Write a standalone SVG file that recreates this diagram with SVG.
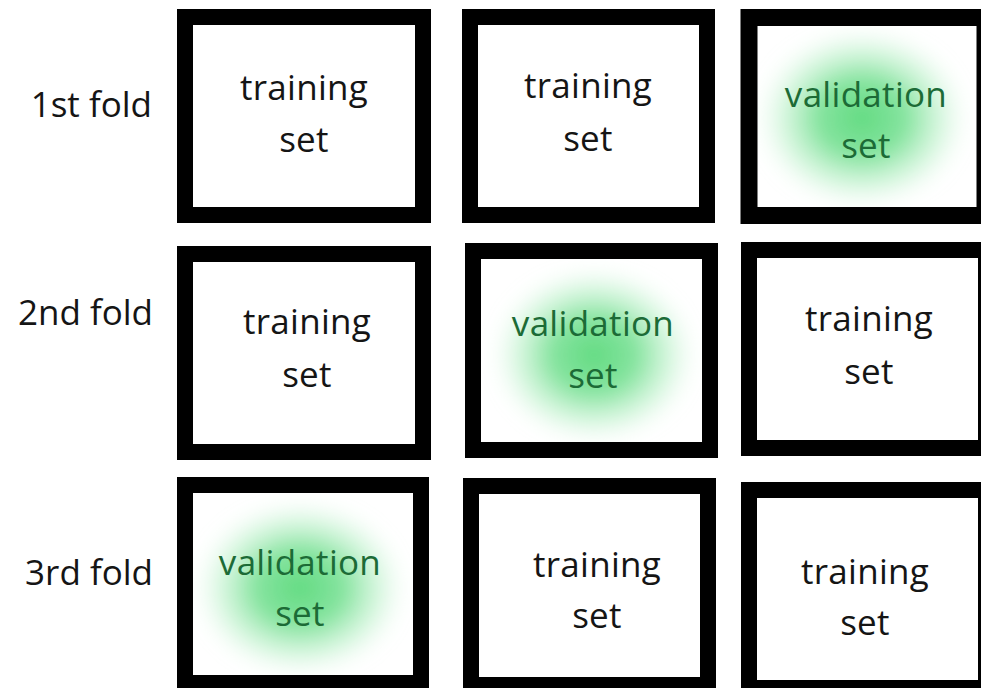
<svg xmlns="http://www.w3.org/2000/svg" width="981" height="688" viewBox="0 0 981 688">
  <style>
    .box { fill: #ffffff; stroke: #000000; stroke-width: 16; }
    .t { font-family: "Open Sans", "Noto Sans", "Liberation Sans", sans-serif; font-size: 35px; text-anchor: middle; fill: #151515; letter-spacing: 0.3px; }
    .v { fill: #1c6b36; }
    .lbl { font-family: "Open Sans", "Noto Sans", "Liberation Sans", sans-serif; font-size: 35px; text-anchor: end; fill: #151515; }
  </style>
  <defs>
    <radialGradient id="glow" cx="0.5" cy="0.5" r="0.5">
      <stop offset="0" stop-color="#5ad97b" stop-opacity="0.95"/>
      <stop offset="0.4" stop-color="#66dc86" stop-opacity="0.8"/>
      <stop offset="0.7" stop-color="#98e9ad" stop-opacity="0.45"/>
      <stop offset="1" stop-color="#d2f6dc" stop-opacity="0"/>
    </radialGradient>
    <filter id="soft" x="-25%" y="-25%" width="150%" height="150%">
      <feGaussianBlur stdDeviation="8"/>
    </filter>
    <clipPath id="c13"><rect x="758" y="26" width="219" height="181"/></clipPath>
    <clipPath id="c22"><rect x="481" y="259" width="221" height="183"/></clipPath>
    <clipPath id="c31"><rect x="193" y="493" width="220" height="182"/></clipPath>
  </defs>
  <rect width="981" height="688" fill="#ffffff"/>

  <g id="labels">
    <text class="lbl" x="152" y="117">1st fold</text>
    <text class="lbl" x="153" y="325">2nd fold</text>
    <text class="lbl" x="153" y="585">3rd fold</text>
  </g>

  <g id="connectors"/>

  <!-- Row 1 -->
  <g id="r1c1">
    <rect class="box" x="185" y="17" width="238" height="198"/>
    <text class="t" x="304" y="100">training</text>
    <text class="t" x="304" y="152">set</text>
  </g>
  <g id="r1c2">
    <rect class="box" x="470" y="17" width="237" height="198"/>
    <text class="t" x="588" y="98">training</text>
    <text class="t" x="588" y="151">set</text>
  </g>
  <g id="r1c3">
    <rect class="box" x="749" y="17.5" width="236" height="198" style="stroke-width:17"/>
    <g clip-path="url(#c13)">
      <ellipse cx="862" cy="118" rx="108" ry="92" fill="url(#glow)" filter="url(#soft)"/>
    </g>
    <text class="t v" x="866" y="107">validation</text>
    <text class="t v" x="866" y="158">set</text>
  </g>

  <!-- Row 2 -->
  <g id="r2c1">
    <rect class="box" x="185" y="254" width="238" height="198"/>
    <text class="t" x="307" y="334">training</text>
    <text class="t" x="307" y="387">set</text>
  </g>
  <g id="r2c2">
    <rect class="box" x="473" y="251" width="237" height="199"/>
    <g clip-path="url(#c22)">
      <ellipse cx="594" cy="355" rx="104" ry="90" fill="url(#glow)" filter="url(#soft)"/>
    </g>
    <text class="t v" x="593" y="336">validation</text>
    <text class="t v" x="593" y="388">set</text>
  </g>
  <g id="r2c3">
    <rect class="box" x="749" y="250" width="237" height="198"/>
    <text class="t" x="869" y="331">training</text>
    <text class="t" x="869" y="384">set</text>
  </g>

  <!-- Row 3 -->
  <g id="r3c1">
    <rect class="box" x="185" y="485" width="236" height="198"/>
    <g clip-path="url(#c31)">
      <ellipse cx="300" cy="588" rx="108" ry="90" fill="url(#glow)" filter="url(#soft)"/>
    </g>
    <text class="t v" x="300" y="575">validation</text>
    <text class="t v" x="300" y="626">set</text>
  </g>
  <g id="r3c2">
    <rect class="box" x="471" y="486" width="237" height="199"/>
    <text class="t" x="597" y="577">training</text>
    <text class="t" x="597" y="628">set</text>
  </g>
  <g id="r3c3">
    <rect class="box" x="749" y="490" width="237" height="198"/>
    <text class="t" x="865" y="584">training</text>
    <text class="t" x="865" y="635">set</text>
  </g>
</svg>
